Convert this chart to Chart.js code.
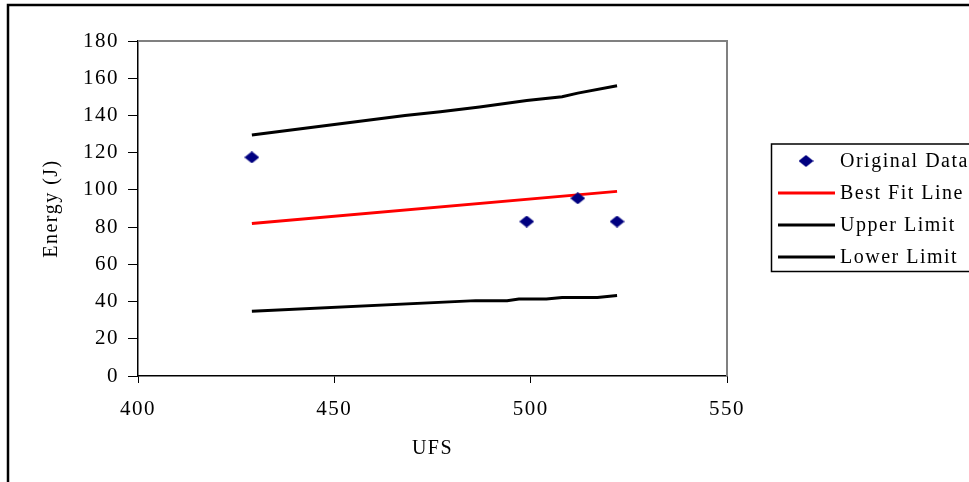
<!DOCTYPE html>
<html>
<head>
<meta charset="utf-8">
<title>Energy vs UFS</title>
<script src="https://cdn.jsdelivr.net/npm/chart.js@4/dist/chart.umd.min.js"></script>
<style>
  html, body { margin: 0; padding: 0; background: #fff; }
  #wrap { position: relative; width: 969px; height: 482px; }
</style>
</head>
<body>
<div id="wrap"><canvas id="energy-chart" width="969" height="482"></canvas></div>
<script>
// measured samples
const ufsData = [429, 499, 512, 522]
const energyData = [117.5, 83, 95.5, 83]

// regression line
const fitUfs = [429, 522]
const fitEnergy = [82, 99.2]

// upper / lower limits
const upperUfs = [429, 468, 477, 487, 499, 508, 512, 522]
const upperEnergy = [129.5, 140, 142, 144.5, 148, 150, 152, 156]
const lowerUfs = [429, 486, 494, 497, 504, 508, 517, 522]
const lowerEnergy = [34.8, 40.5, 40.5, 41.4, 41.4, 42.2, 42.2, 43.2]

const xTicks = [400, 450, 500, 550]
const yTicks = [0, 20, 40, 60, 80, 100, 120, 140, 160, 180]

const seriesNames = ['Original Data', 'Best Fit Line', 'Upper Limit', 'Lower Limit']

const serif = "'Liberation Serif', 'Times New Roman', serif"

const toPoints = (xs, ys) => xs.map((x, i) => ({ x: x, y: ys[i] }))

// navy diamond, a bit wider than tall
const diamond = document.createElement('canvas')
diamond.width = 15
diamond.height = 12
const dctx = diamond.getContext('2d')
dctx.fillStyle = '#000080'
dctx.beginPath()
dctx.moveTo(7.5, 0)
dctx.lineTo(15, 6)
dctx.lineTo(7.5, 12)
dctx.lineTo(0, 6)
dctx.closePath()
dctx.fill()

const framePlugin = {
  id: 'frame',
  beforeDraw(chart) {
    const ctx = chart.ctx
    ctx.letterSpacing = '1.5px'
    ctx.save()
    ctx.strokeStyle = '#000'
    ctx.lineWidth = 2.5
    ctx.strokeRect(8, 5, 1100, 1100)
    ctx.restore()
  },
  afterDraw(chart) {
    const ctx = chart.ctx
    const area = chart.chartArea
    ctx.save()
    // grey top and right edges of the plot area
    ctx.strokeStyle = '#808080'
    ctx.lineWidth = 2
    ctx.beginPath()
    ctx.moveTo(area.left, area.top)
    ctx.lineTo(area.right, area.top)
    ctx.lineTo(area.right, area.bottom)
    ctx.stroke()

    // legend box
    ctx.strokeStyle = '#000'
    ctx.lineWidth = 1.5
    ctx.strokeRect(771.5, 144, 400, 127.5)
    ctx.font = '20px ' + serif
    ctx.fillStyle = '#000'
    ctx.textBaseline = 'middle'
    ctx.textAlign = 'left'
    chart.data.datasets.forEach((ds, i) => {
      const y = 161 + i * 32
      if (ds.showLine) {
        ctx.strokeStyle = ds.borderColor
        ctx.lineWidth = 3
        ctx.beginPath()
        ctx.moveTo(778, y)
        ctx.lineTo(835, y)
        ctx.stroke()
      } else {
        ctx.drawImage(diamond, 806 - 7.5, y - 6)
      }
      ctx.fillText(ds.label, 840, y + 1)
    })
    ctx.restore()
  }
}

const ctx = document.getElementById('energy-chart').getContext('2d')
const chart = new Chart(ctx, {
  type: 'scatter',
  data: {
    datasets: [
      {
        label: seriesNames[0],
        data: toPoints(ufsData, energyData),
        pointStyle: diamond,
        pointRadius: 7,
        showLine: false
      },
      {
        label: seriesNames[1],
        data: toPoints(fitUfs, fitEnergy),
        showLine: true,
        borderColor: '#ff0000',
        borderWidth: 3,
        pointRadius: 0,
        tension: 0
      },
      {
        label: seriesNames[2],
        data: toPoints(upperUfs, upperEnergy),
        showLine: true,
        borderColor: '#000000',
        borderWidth: 3,
        pointRadius: 0,
        tension: 0
      },
      {
        label: seriesNames[3],
        data: toPoints(lowerUfs, lowerEnergy),
        showLine: true,
        borderColor: '#000000',
        borderWidth: 3,
        pointRadius: 0,
        tension: 0
      }
    ]
  },
  options: {
    responsive: false,
    animation: false,
    events: [],
    layout: { padding: { top: 41, right: 242, left: 0, bottom: 0 } },
    plugins: {
      legend: { display: false },
      tooltip: { enabled: false }
    },
    scales: {
      x: {
        type: 'linear',
        min: 400,
        max: 550,
        afterFit: (scale) => { scale.height = 106 },
        afterBuildTicks: (scale) => { scale.ticks = xTicks.map(v => ({ value: v })) },
        ticks: { color: '#000', font: { family: serif, size: 21 }, padding: 14 },
        grid: { drawOnChartArea: false, drawTicks: true, tickLength: 7, color: '#000', lineWidth: 1 },
        border: { display: true, color: '#000', width: 1.5 },
        title: { display: true, text: 'UFS', color: '#000', font: { family: serif, size: 20 }, padding: { top: 0, bottom: 21 } }
      },
      y: {
        min: 0,
        max: 180,
        afterFit: (scale) => { scale.width = 138 },
        afterBuildTicks: (scale) => { scale.ticks = yTicks.map(v => ({ value: v })) },
        ticks: { color: '#000', font: { family: serif, size: 21 }, padding: 9 },
        grid: { drawOnChartArea: false, drawTicks: true, tickLength: 10, color: '#000', lineWidth: 1 },
        border: { display: true, color: '#000', width: 1.5 },
        title: { display: true, text: 'Energy (J)', color: '#000', font: { family: serif, size: 20 }, padding: { top: 40, bottom: 0 } }
      }
    }
  },
  plugins: [framePlugin]
})
</script>
</body>
</html>
